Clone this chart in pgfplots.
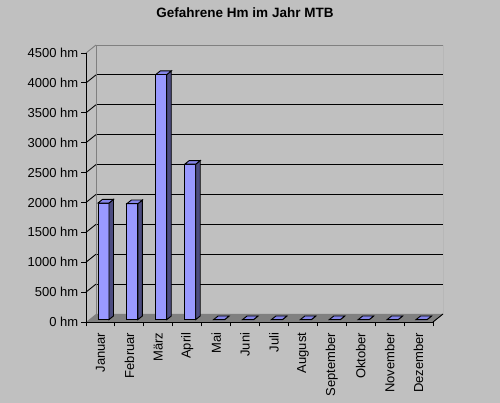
\documentclass[border=0pt]{standalone}
\usepackage{pgfplots}
\pgfplotsset{compat=1.18}
\usepackage{pgfplotstable}
\usepackage{fontspec}
\setmainfont{Liberation Sans}

\definecolor{chartbg}{HTML}{C0C0C0}
\definecolor{floorgray}{HTML}{808080}
\definecolor{wallgray}{HTML}{808080}
\definecolor{barfront}{HTML}{9999FF}
\definecolor{barside}{HTML}{4C4C80}
\definecolor{bartop}{HTML}{8585E8}

% Gefahrene Höhenmeter je Monat
\pgfplotstableread{
idx value
0 1950
1 1940
2 4100
3 2600
4 0
5 0
6 0
7 0
8 0
9 0
10 0
11 0
}\hmdata

\begin{document}
\begin{tikzpicture}
\fill[chartbg] (0pt,0pt) rectangle (500pt,403pt);
\node[font=\fontsize{13.5}{15}\selectfont\bfseries] at (245pt,390pt) {Gefahrene Hm im Jahr MTB};

% back wall with grid lines
\begin{axis}[
  at={(96pt,89pt)}, anchor=south west,
  scale only axis, width=347pt, height=269pt,
  xmin=-0.5, xmax=11.5, ymin=0, ymax=4500,
  axis line style={draw=none},
  xtick=\empty, ytick={500,1000,...,4000}, yticklabels={},
  major tick length=0pt,
  ymajorgrids, grid style={black, line width=0.9pt},
]
\draw[wallgray, line width=0.9pt] (rel axis cs:0,0) -- (rel axis cs:0,1) -- (rel axis cs:1,1) -- (rel axis cs:1,0);
\end{axis}

% floor and the edges joining front and back
\fill[floorgray] (86pt,81pt) -- (433pt,81pt) -- (443pt,89pt) -- (96pt,89pt) -- cycle;
\draw[black, line width=0.9pt] (433pt,81pt) -- (443pt,89pt);
\foreach \k in {1,...,8}
  \draw[black, line width=0.9pt] (86pt,{(81+\k*269/9)*1pt}) -- ++(10pt,8pt);
\draw[wallgray, line width=0.9pt] (86pt,350pt) -- (96pt,358pt);

% front axis with the columns
\begin{axis}[
  at={(86pt,81pt)}, anchor=south west,
  scale only axis, width=347pt, height=269pt,
  xmin=-0.5, xmax=11.5, ymin=0, ymax=4500,
  clip=false,
  axis line style={draw=none},
  tick align=outside, tick pos=left,
  major tick length=4.5pt,
  tick style={black, line width=0.9pt},
  ytick={0,500,...,4500},
  yticklabels={0 hm,500 hm,1000 hm,1500 hm,2000 hm,2500 hm,3000 hm,3500 hm,4000 hm,4500 hm},
  xtick={-0.5,0.5,...,11.5},
  x tick label as interval,
  xticklabels={Januar,Februar,März,April,Mai,Juni,Juli,August,September,Oktober,November,Dezember},
  ticklabel style={font=\fontsize{13}{15}\selectfont},
  xticklabel style={rotate=90, anchor=east, inner sep=0pt, xshift=-6pt},
  yticklabel style={inner sep=0pt, xshift=-3pt},
]
\draw[black, line width=0.9pt] (rel axis cs:0,1) -- (rel axis cs:0,0) -- (rel axis cs:1,0);
\addplot[only marks, mark=*, mark size=0pt, mark options={draw=none, fill=none},
  scatter,
  visualization depends on={rawy \as \val},
  scatter/@pre marker code/.code={%
    \pgfmathsetmacro\barh{\val/4500*269}%
    \filldraw[fill=barfront, draw=black, line width=0.9pt]
      (-2.5pt,{(2.4-\barh)*1pt}) rectangle (8.5pt,2.4pt);
    \filldraw[fill=barside, draw=black, line width=0.9pt]
      (8.5pt,{(2.4-\barh)*1pt}) -- (13pt,{(6-\barh)*1pt}) -- (13pt,6pt) -- (8.5pt,2.4pt) -- cycle;
    \filldraw[fill=bartop, draw=black, line width=0.9pt]
      (-2.5pt,2.4pt) -- (8.5pt,2.4pt) -- (13pt,6pt) -- (2pt,6pt) -- cycle;
    \scope
  },
  scatter/@post marker code/.code={\endscope},
] table[x=idx, y=value] {\hmdata};
\end{axis}
\end{tikzpicture}
\end{document}
